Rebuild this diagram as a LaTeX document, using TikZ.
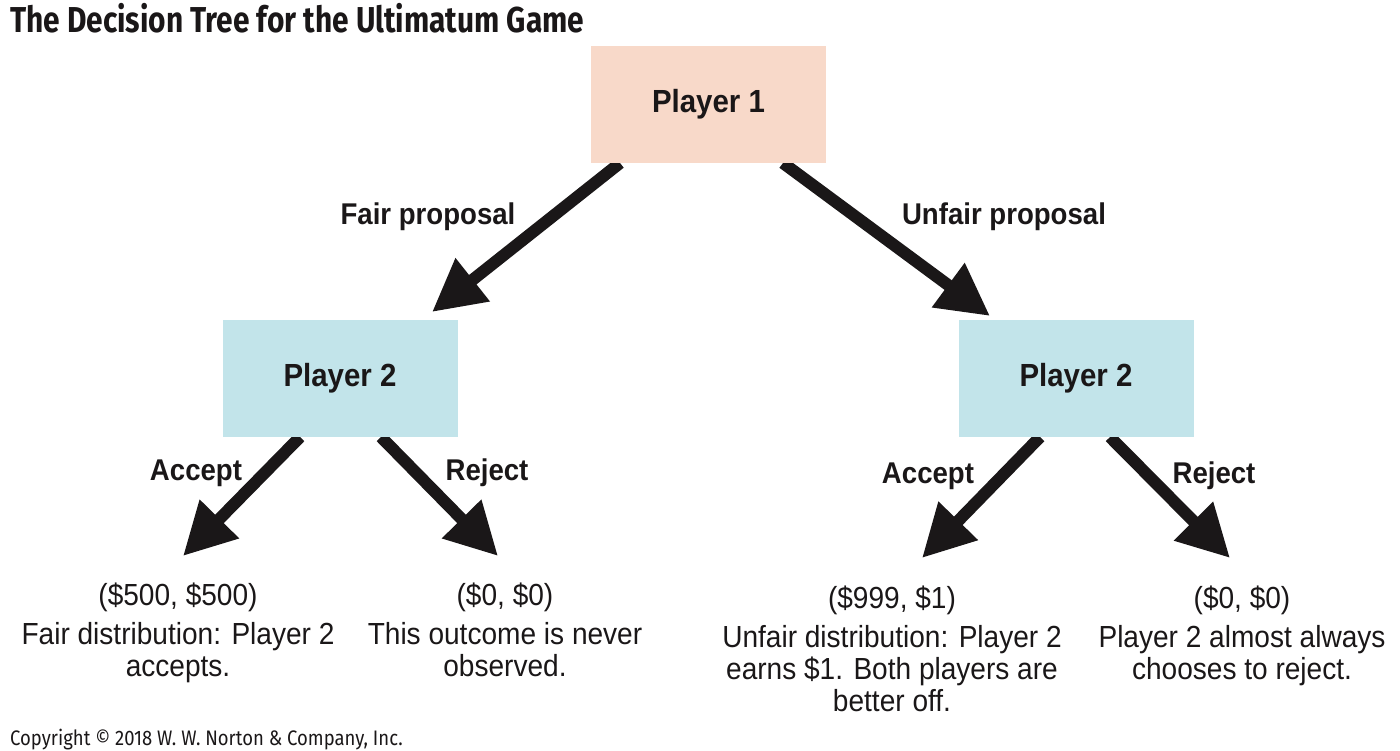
\documentclass[tikz,border=0pt]{standalone}
\usepackage{fontspec}
\setmainfont{Liberation Sans}
\newfontfamily\titlefont[FakeStretch=0.83]{Fira Sans}
\newfontfamily\copyfont[FakeStretch=0.88]{Fira Sans}
\newfontfamily\labelfont[FakeStretch=0.92]{Liberation Sans}
\newfontfamily\bodyfont[FakeStretch=0.92]{Liberation Sans}
\usetikzlibrary{arrows.meta,backgrounds}
\definecolor{peach}{HTML}{F8D9C9}
\definecolor{paleblue}{HTML}{C2E4EA}
\definecolor{ink}{HTML}{1A1718}
\begin{document}
\begin{tikzpicture}[x=1pt,y=-1pt,
  box/.style={draw=none, minimum width=235pt, minimum height=117pt, inner sep=0pt},
  boxlabel/.style={font=\labelfont\bfseries\fontsize{32}{38}\selectfont, text=ink},
  edgelabel/.style={font=\labelfont\bfseries\fontsize{30}{36}\selectfont, text=ink, anchor=base, inner sep=0pt},
  outcome/.style={font=\bodyfont\fontsize{30.5}{32}\selectfont, align=center, text=ink, anchor=base, inner sep=0pt},
  bigarrow/.style={line width=12pt, draw=ink, -{Triangle[length=52pt,width=52pt]}}
]
\useasboundingbox (0,0) rectangle (1400,751);

\node[anchor=base west, inner sep=0pt, font=\titlefont\bfseries\fontsize{36}{40}\selectfont, text=ink] (title) at (10,33) {The Decision Tree for the Ultimatum Game};
\node[anchor=base west, inner sep=0pt, font=\copyfont\fontsize{21}{24}\selectfont, text=ink] (copy) at (10,745) {Copyright \textcopyright{} 2018 W. W. Norton \& Company, Inc.};

\node[box, fill=peach, boxlabel] (p1) at (708.5,104.5) {Player 1};
\node[box, fill=paleblue, boxlabel] (p2l) at (340,378) {Player 2};
\node[box, fill=paleblue, boxlabel] (p2r) at (1076,378) {Player 2};

\node[edgelabel] (lfair) at (428,225) {Fair proposal};
\node[edgelabel] (lunfair) at (1004,225) {Unfair proposal};
\node[edgelabel] (lacc1) at (196,480) {Accept};
\node[edgelabel] (lrej1) at (487,480) {Reject};
\node[edgelabel] (lacc2) at (928,483) {Accept};
\node[edgelabel] (lrej2) at (1214,483) {Reject};

\node[outcome] (o1) at (178,676) {(\$500, \$500)\\[7pt]Fair distribution: Player 2\\accepts.};
\node[outcome] (o2) at (505,676) {(\$0, \$0)\\[7pt]This outcome is never\\observed.};
\node[outcome] (o3) at (892,711) {(\$999, \$1)\\[7pt]Unfair distribution: Player 2\\earns \$1. Both players are\\better off.};
\node[outcome] (o4) at (1242,679) {(\$0, \$0)\\[7pt]Player 2 almost always\\chooses to reject.};

\coordinate (s1) at (620,163);
\coordinate (t1) at (432,312);
\coordinate (s2) at (783,163);
\coordinate (t2) at (990,316);
\coordinate (s3) at (300,437);
\coordinate (t3) at (183,556);
\coordinate (s4) at (381,437);
\coordinate (t4) at (498,556);
\coordinate (s5) at (1040,437);
\coordinate (t5) at (922,558);
\coordinate (s6) at (1110,437);
\coordinate (t6) at (1230,558);

\begin{scope}[on background layer]
\draw[bigarrow] (s1) -- (t1);
\draw[bigarrow] (s2) -- (t2);
\draw[bigarrow] (s3) -- (t3);
\draw[bigarrow] (s4) -- (t4);
\draw[bigarrow] (s5) -- (t5);
\draw[bigarrow] (s6) -- (t6);
\end{scope}
\end{tikzpicture}
\end{document}
